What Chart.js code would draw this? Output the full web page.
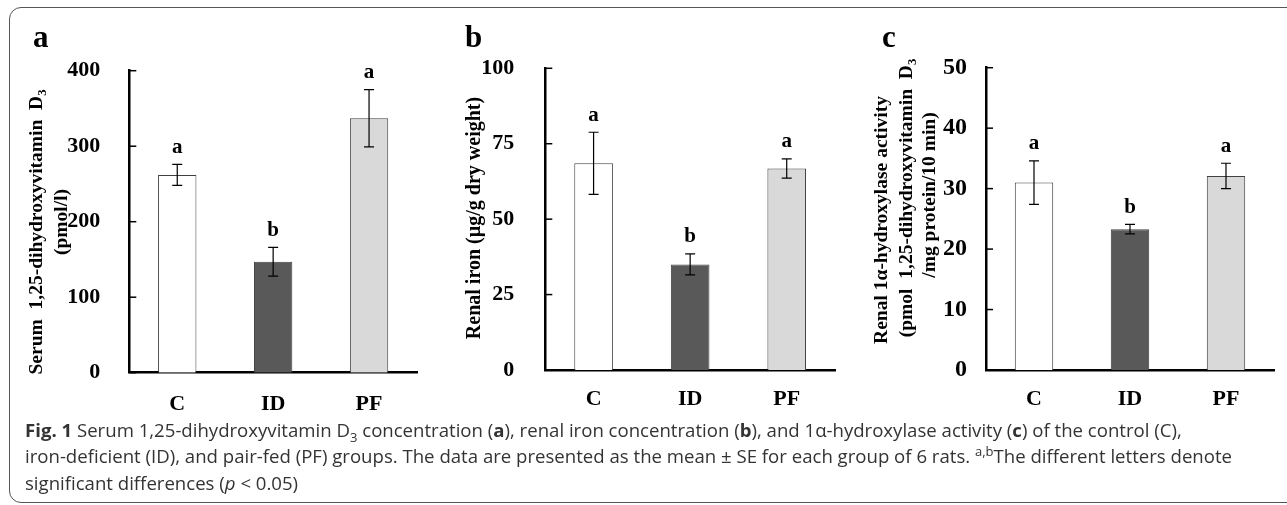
<!DOCTYPE html>
<html>
<head>
<meta charset="utf-8">
<script src="https://cdn.jsdelivr.net/npm/chart.js@4"></script>
<style>
  body { margin: 0; width: 1287px; height: 505px; overflow: hidden; background: #fff; position: relative; }
  #frame { position: absolute; left: 9px; top: 7px; width: 1300px; height: 494px; border: 1.5px solid #555; border-radius: 12px; }
  canvas { position: absolute; top: 0; }
  #caption { position: absolute; left: 25px; top: 416.5px; width: 1255px; font-family: 'Open Sans', sans-serif; font-size: 18.6px; line-height: 26.5px; color: #333; white-space: nowrap; }
  #caption sub, #caption sup { font-size: 70%; line-height: 0; }
</style>
</head>
<body>
<div id="frame"></div>
<canvas id="chartA" width="430" height="420" style="left:0px"></canvas>
<canvas id="chartB" width="420" height="420" style="left:430px"></canvas>
<canvas id="chartC" width="437" height="420" style="left:850px"></canvas>
<div id="caption">
  <b>Fig. 1</b> Serum 1,25-dihydroxyvitamin D<sub>3</sub> concentration (<b>a</b>), renal iron concentration (<b>b</b>), and 1α-hydroxylase activity (<b>c</b>) of the control (C),<br>
  iron-deficient (ID), and pair-fed (PF) groups. The data are presented as the mean ± SE for each group of 6 rats. <sup>a,b</sup>The different letters denote<br>
  significant differences (<i>p</i> &lt; 0.05)
</div>
<script>
'use strict';
// ******* Data *******
let groups = ['C', 'ID', 'PF'];
let barColors = ['#ffffff', '#595959', '#d9d9d9'];

let serumMean = [262, 147, 337];
let serumSE = [14, 19, 38];
let serumLetters = ['a', 'b', 'a'];
let serumTicks = [0, 400, 100]; // min, max, step

let ironMean = [68.5, 35, 66.8];
let ironSE = [10.3, 3.5, 3.2];
let ironLetters = ['a', 'b', 'a'];
let ironTicks = [0, 100, 25];

let activityMean = [31, 23.3, 32.1];
let activitySE = [3.6, 0.8, 2.1];
let activityLetters = ['a', 'b', 'a'];
let activityTicks = [0, 50, 10];

const SERIF = "'Liberation Serif', 'Times New Roman', serif";

// ****** rotated axis title with subscripts ******
function drawTitleLine(ctx, parts, cx, cy, size) {
  ctx.save();
  ctx.translate(cx, cy);
  ctx.rotate(-Math.PI / 2);
  ctx.fillStyle = '#000';
  ctx.textBaseline = 'middle';
  ctx.textAlign = 'left';
  let total = 0;
  let widths = parts.map(p => {
    ctx.font = 'bold ' + (p.sub ? size * 0.65 : size) + 'px ' + SERIF;
    let w = ctx.measureText(p.t).width;
    total += w;
    return w;
  });
  let x = -total / 2;
  parts.forEach((p, i) => {
    ctx.font = 'bold ' + (p.sub ? size * 0.65 : size) + 'px ' + SERIF;
    ctx.fillText(p.t, x, p.sub ? size * 0.3 : 0);
    x += widths[i];
  });
  ctx.restore();
}

// ****** extras: inward ticks, error bars, letters, titles ******
function panelExtras(spec) {
  return {
    id: 'panelExtras',
    afterDatasetsDraw(chart) {
      let ctx = chart.ctx;
      let yScale = chart.scales.y;
      let area = chart.chartArea;
      let meta = chart.getDatasetMeta(0);
      let values = chart.data.datasets[0].data;
      ctx.save();
      ctx.strokeStyle = '#000';
      ctx.lineWidth = 1.5;
      yScale.ticks.forEach((t, i) => {
        let py = yScale.getPixelForTick(i);
        ctx.beginPath();
        ctx.moveTo(area.left, py);
        ctx.lineTo(area.left + 7, py);
        ctx.stroke();
      });
      ctx.lineWidth = 1.2;
      meta.data.forEach((bar, i) => {
        let top = yScale.getPixelForValue(values[i] + spec.se[i]);
        let bot = yScale.getPixelForValue(values[i] - spec.se[i]);
        ctx.beginPath();
        ctx.moveTo(bar.x, top); ctx.lineTo(bar.x, bot);
        ctx.moveTo(bar.x - 5, top); ctx.lineTo(bar.x + 5, top);
        ctx.moveTo(bar.x - 5, bot); ctx.lineTo(bar.x + 5, bot);
        ctx.stroke();
        ctx.fillStyle = '#000';
        ctx.font = 'bold 21px ' + SERIF;
        ctx.textAlign = 'center';
        ctx.textBaseline = 'middle';
        ctx.fillText(spec.letters[i], bar.x, top - 17);
      });
      ctx.font = 'bold 31px ' + SERIF;
      ctx.textAlign = 'left';
      ctx.textBaseline = 'alphabetic';
      ctx.fillText(spec.panel, spec.panelX, 47);
      spec.titles.forEach(l => drawTitleLine(ctx, l.parts, l.x, l.y, spec.titleSize));
      ctx.restore();
    }
  };
}

function makeChart(id, mean, ticks, spec) {
  let ctx = document.getElementById(id);
  let canvasH = ctx.height;
  return new Chart(ctx, {
    type: 'bar',
    data: {
      labels: groups,
      datasets: [{
        data: mean,
        backgroundColor: barColors,
        borderColor: '#404040',
        borderWidth: 1,
        barPercentage: 0.4,
        categoryPercentage: 1
      }]
    },
    options: {
      responsive: false,
      animation: false,
      devicePixelRatio: 1,
      layout: { padding: { left: 0, top: spec.top, right: spec.right, bottom: 0 } },
      plugins: { legend: { display: false }, tooltip: { enabled: false } },
      scales: {
        x: {
          grid: { display: false },
          border: { display: true, color: '#000', width: 2.5 },
          ticks: { color: '#000', padding: spec.xPad, font: { family: SERIF, weight: 'bold', size: 22 } },
          afterFit: s => { s.height = canvasH - spec.bottom; }
        },
        y: {
          min: ticks[0],
          max: ticks[1],
          grid: { display: false },
          border: { display: true, color: '#000', width: 2.5 },
          ticks: { stepSize: ticks[2], color: '#000', padding: spec.yPad, font: { family: SERIF, weight: 'bold', size: spec.tickSize } },
          afterFit: s => { s.width = spec.left; }
        }
      }
    },
    plugins: [panelExtras(spec)]
  });
}

makeChart('chartA', serumMean, serumTicks, {
  left: 129.3, right: 13, top: 70.7, bottom: 372.7, xPad: 10, yPad: 21, tickSize: 22,
  se: serumSE, letters: serumLetters, panel: 'a', panelX: 33, titleSize: 19.5,
  titles: [
    { parts: [{ t: 'Serum  1,25-dihydroxyvitamin  D' }, { t: '3', sub: true }], x: 36.7, y: 232 },
    { parts: [{ t: '(pmol/l)' }], x: 62, y: 222 }
  ]
});

makeChart('chartB', ironMean, ironTicks, {
  left: 115.3, right: 15, top: 68.3, bottom: 370, xPad: 8, yPad: 23, tickSize: 22,
  se: ironSE, letters: ironLetters, panel: 'b', panelX: 35, titleSize: 20,
  titles: [
    { parts: [{ t: 'Renal iron (µg/g dry weight)' }], x: 45, y: 218 }
  ]
});

makeChart('chartC', activityMean, activityTicks, {
  left: 136, right: 13, top: 67.7, bottom: 370, xPad: 8, yPad: 11, tickSize: 24,
  se: activitySE, letters: activityLetters, panel: 'c', panelX: 32, titleSize: 19.5,
  titles: [
    { parts: [{ t: 'Renal 1α-hydroxylase activity' }], x: 31.7, y: 220 },
    { parts: [{ t: '(pmol  1,25-dihydroxyvitamin  D' }, { t: '3', sub: true }], x: 56.7, y: 198 },
    { parts: [{ t: '/mg protein/10 min)' }], x: 80, y: 195 }
  ]
});
</script>
</body>
</html>
